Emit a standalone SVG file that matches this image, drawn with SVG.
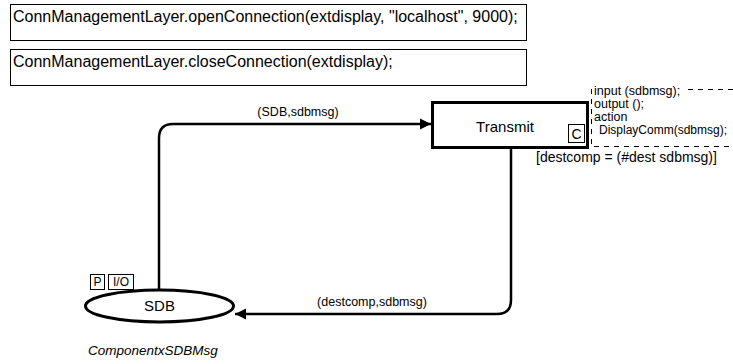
<svg xmlns="http://www.w3.org/2000/svg" width="733" height="364" viewBox="0 0 733 364">
<defs>
<style>
text{font-family:"Liberation Sans",Arial,sans-serif;fill:#000}
.decl{fill:#fff;stroke:#000;stroke-width:1}
.big{font-size:16px}
.lbl{font-size:12.5px}
.mid{font-size:15px}
.node{fill:#fff;stroke:#000;stroke-width:3}
.tag{fill:#fff;stroke:#000;stroke-width:1}
.arc{fill:none;stroke:#000;stroke-width:2.5}
.dash{fill:none;stroke:#000;stroke-width:1;stroke-dasharray:5,5}
</style>
<marker id="ah" viewBox="0 0 10 10" refX="10" refY="5" markerWidth="4.5" markerHeight="4.5" orient="auto" markerUnits="strokeWidth">
<path d="M0,0 L10,5 L0,10 z" fill="#000"/>
</marker>
</defs>
<rect width="733" height="364" fill="#fff"/>
<g id="decl1">
<rect class="decl" x="10.5" y="4.5" width="516" height="36"/>
<text class="big" x="13" y="22">ConnManagementLayer.openConnection(extdisplay, "localhost", 9000);</text>
</g>
<g id="decl2">
<rect class="decl" x="10.5" y="49.5" width="516" height="36"/>
<text class="big" x="13" y="67">ConnManagementLayer.closeConnection(extdisplay);</text>
</g>
<g id="connectors">
<path class="arc" d="M159,290 L159,138 Q159,124 173,124 L431,124" marker-end="url(#ah)"/>
<text class="lbl" x="298" y="116" text-anchor="middle">(SDB,sdbmsg)</text>
<path class="arc" d="M511,149 L511,300 Q511,314 497,314 L235,314" marker-end="url(#ah)"/>
<text class="lbl" x="372" y="306" text-anchor="middle">(destcomp,sdbmsg)</text>
</g>
<g id="Transmit">
<rect class="node" x="432.5" y="102.5" width="155" height="45"/>
<text class="mid" x="505" y="132" text-anchor="middle">Transmit</text>
<rect class="tag" x="568.5" y="124.5" width="16" height="18"/>
<text class="mid" x="576.5" y="139" text-anchor="middle" style="font-size:14px">C</text>
<path class="dash" d="M591.5,89 L591.5,146.5 L733,146.5"/>
<path class="dash" d="M688,89.5 L733,89.5"/>
<text class="lbl" x="594" y="95">input (sdbmsg);</text>
<text class="lbl" x="594" y="108">output ();</text>
<text class="lbl" x="594" y="121">action</text>
<text class="lbl" x="599" y="134" style="font-size:12px">DisplayComm(sdbmsg);</text>
<text class="lbl" x="536" y="162" style="font-size:14px">[destcomp = (#dest sdbmsg)]</text>
</g>
<g id="SDB">
<ellipse class="node" cx="159.5" cy="306" rx="74" ry="16"/>
<text class="mid" x="159.5" y="311" text-anchor="middle">SDB</text>
<rect class="tag" x="90.5" y="274.5" width="14" height="15"/>
<text class="lbl" x="97.5" y="286" text-anchor="middle" style="font-size:12px">P</text>
<rect class="tag" x="108.5" y="274.5" width="25" height="15"/>
<text class="lbl" x="121" y="286" text-anchor="middle" style="font-size:12px">I/O</text>
<text class="lbl" x="88" y="355" font-style="italic" style="font-size:13.5px">ComponentxSDBMsg</text>
</g>
</svg>
